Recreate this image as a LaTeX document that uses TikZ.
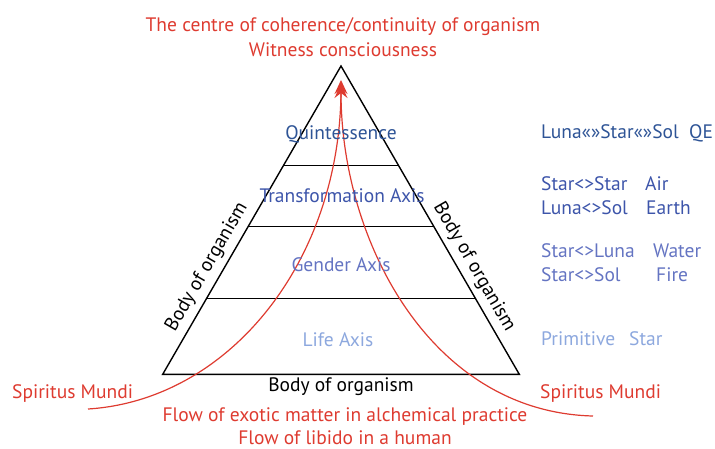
\documentclass[tikz,border=0pt]{standalone}
\usepackage{fontspec}
\setmainfont{PT Sans}
\usetikzlibrary{arrows.meta}
\definecolor{myred}{HTML}{DE3B30}
\definecolor{bdark}{HTML}{2E5496}
\definecolor{bmid}{HTML}{3D55AA}
\definecolor{blight}{HTML}{6474C2}
\definecolor{bpale}{HTML}{8DA8DE}
\tikzset{
  txt/.style={inner sep=0pt, anchor=base, font=\fontsize{19.5}{22}\selectfont},
  redtxt/.style={txt, text=myred},
  col/.style={txt, anchor=base west},
  tri/.style={draw=black, line width=1.4pt, line join=miter},
  flow/.style={draw=myred, line width=1.2pt, -{Stealth[length=14pt,width=13pt,inset=5pt]}},
}
\begin{document}
\begin{tikzpicture}[x=1pt,y=-1pt]
\useasboundingbox (0,0) rectangle (715,448);
% triangle
\coordinate (A) at (341,66);
\coordinate (BL) at (162.7,374.3);
\coordinate (BR) at (519.3,374.3);
\draw[tri] (A) -- (BL) -- (BR) -- cycle;
\coordinate (L1) at (283.6,165.3); \coordinate (R1) at (398.4,165.3);
\coordinate (L2) at (248.1,226.7); \coordinate (R2) at (433.9,226.7);
\coordinate (L3) at (206.7,298.3); \coordinate (R3) at (475.3,298.3);
\draw[tri] (L1) -- (R1);
\draw[tri] (L2) -- (R2);
\draw[tri] (L3) -- (R3);
% red flows
\coordinate (topl) at (341,80);
\coordinate (topr) at (341,84);
\coordinate (sl) at (88,409);
\coordinate (sr) at (593,416);
\draw[flow] (sl) .. controls (230,400) and (341,260) .. (topl);
\draw[flow] (sr) .. controls (430,412) and (341,240) .. (topr);
% labels in triangle
\node[txt, text=bdark] (q) at (341,139) {Quintessence};
\node[txt, text=bmid] (ta) at (342,202) {Transformation Axis};
\node[txt, text=blight] (ga) at (341,271) {Gender Axis};
\node[txt, text=bpale] (la) at (338,346) {Life Axis};
% right column
\node[col, text=bdark] (r1) at (541,138) {\makebox[148pt][l]{Luna«»Star«»Sol}QE};
\node[col, text=bmid] (r2) at (541,190) {\makebox[104pt][l]{Star<>Star}Air};
\node[col, text=bmid] (r3) at (541,214) {\makebox[105pt][l]{Luna<>Sol}Earth};
\node[col, text=blight] (r4) at (541,257) {\makebox[112pt][l]{Star<>Luna}Water};
\node[col, text=blight] (r5) at (541,281) {\makebox[115pt][l]{Star<>Sol}Fire};
\node[col, text=bpale] (r6) at (541,345) {\makebox[88pt][l]{Primitive}Star};
% body labels
\node[txt, anchor=center, rotate=60] (bl) at (207,267) {Body of organism};
\node[txt, anchor=center, rotate=-60] (br) at (474,267) {Body of organism};
\node[txt] (bb) at (341,391) {Body of organism};
% red labels
\node[redtxt] (t1) at (343,31) {The centre of coherence/continuity of organism};
\node[redtxt] (t2) at (343,56) {Witness consciousness};
\node[redtxt, anchor=base west] (sml) at (12,398) {Spiritus Mundi};
\node[redtxt, anchor=base west] (smr) at (540,398) {Spiritus Mundi};
\node[redtxt] (f1) at (345,421.5) {Flow of exotic matter in alchemical practice};
\node[redtxt] (f2) at (345,444) {Flow of libido in a human};
\end{tikzpicture}
\end{document}
